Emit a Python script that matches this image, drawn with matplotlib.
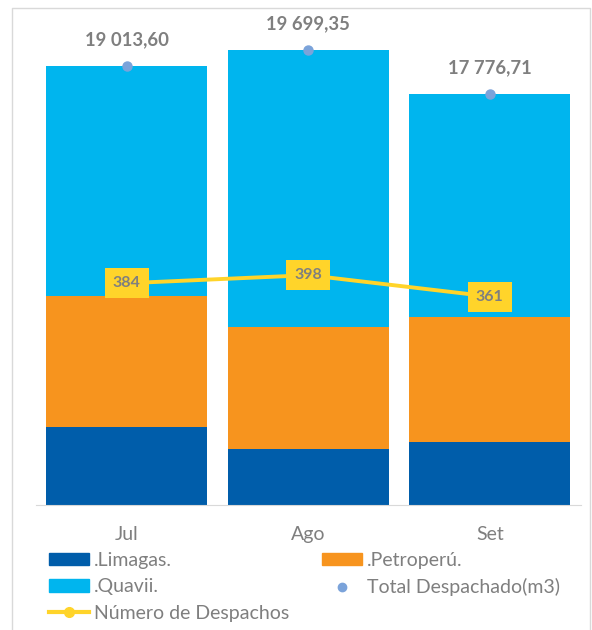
import numpy as np
import matplotlib.pyplot as plt
from matplotlib.lines import Line2D
from matplotlib.patches import Patch

plt.rcParams['font.family'] = ['Lato', 'DejaVu Sans']

meses = ['Jul', 'Ago', 'Set']
limagas = [3390, 2425, 2727]
petroperu = [5658, 5282, 5399]
quavii = [9965.60, 11992.35, 9650.71]
total = [19013.60, 19699.35, 17776.71]
total_txt = ['19 013,60', '19 699,35', '17 776,71']
despachos = [384, 398, 361]

c_lim = '#005DAA'
c_pet = '#F7941E'
c_qua = '#00B5EE'
c_tot = '#7BA3DA'
c_lin = '#FFD42A'
gris = '#7F7F7F'

fig = plt.figure(figsize=(5.92, 6.30), dpi=100)
ax = fig.add_axes([36/592, 125/630, 544.5/592, 462/630])
x = np.arange(len(meses))
w = 0.887

b1 = np.array(limagas)
b2 = b1 + np.array(petroperu)
ax.bar(x, limagas, w, color=c_lim, zorder=2)
ax.bar(x, petroperu, w, bottom=b1, color=c_pet, zorder=2)
ax.bar(x, quavii, w, bottom=b2, color=c_qua, zorder=2)
ax.plot(x, total, 'o', color=c_tot, ms=6.5, zorder=3, clip_on=False)
for xi, t, s in zip(x, total, total_txt):
    ax.annotate(s, (xi, t), xytext=(0, 19), textcoords='offset points',
                ha='center', va='center', fontsize=13.3, fontweight='bold',
                color=gris, annotation_clip=False)

ax.set_xlim(-0.5, 2.5)
ax.set_ylim(0, 20000)
ax.set_xticks(x)
ax.set_xticklabels(meses, fontsize=14, color=gris)
ax.tick_params(axis='x', length=0, pad=15)
ax.set_yticks([])
for s in ['top', 'right', 'left']:
    ax.spines[s].set_visible(False)
ax.spines['bottom'].set_color('#D9D9D9')

ax2 = ax.twinx()
ax2.plot(x, despachos, color=c_lin, lw=2.8, marker='o', ms=7, zorder=3)
for xi, d in zip(x, despachos):
    ax2.text(xi, d, str(d), ha='center', va='center', fontsize=11.5,
             fontweight='bold', color=gris,
             bbox=dict(boxstyle='square,pad=0.5', fc=c_lin, ec='none'))
ax2.set_ylim(0, 800)
ax2.axis('off')

# borde del grafico
fig.add_artist(Line2D([12/592, 12/592, 590/592, 590/592], [0, 1 - 8/630, 1 - 8/630, 0],
                      transform=fig.transFigure, color='#D9D9D9', lw=1))

handles = [Patch(color=c_lim, label='.Limagas.'),
           Patch(color=c_qua, label='.Quavii.'),
           Line2D([], [], color=c_lin, lw=3, marker='o', ms=7, label='Número de Despachos'),
           Patch(color=c_pet, label='.Petroperú.'),
           Line2D([], [], color=c_tot, marker='o', ms=6, ls='none', label='Total Despachado(m3)')]
fig.legend(handles=handles, ncol=2, loc='upper left', bbox_to_anchor=(49/592, 1 - 552/630),
           frameon=False, fontsize=14, labelcolor=gris, handlelength=2.05, handleheight=0.6,
           handletextpad=0.26, columnspacing=1.7, labelspacing=0.48, borderpad=0,
           borderaxespad=0)

fig.savefig('out.png', dpi=100)
